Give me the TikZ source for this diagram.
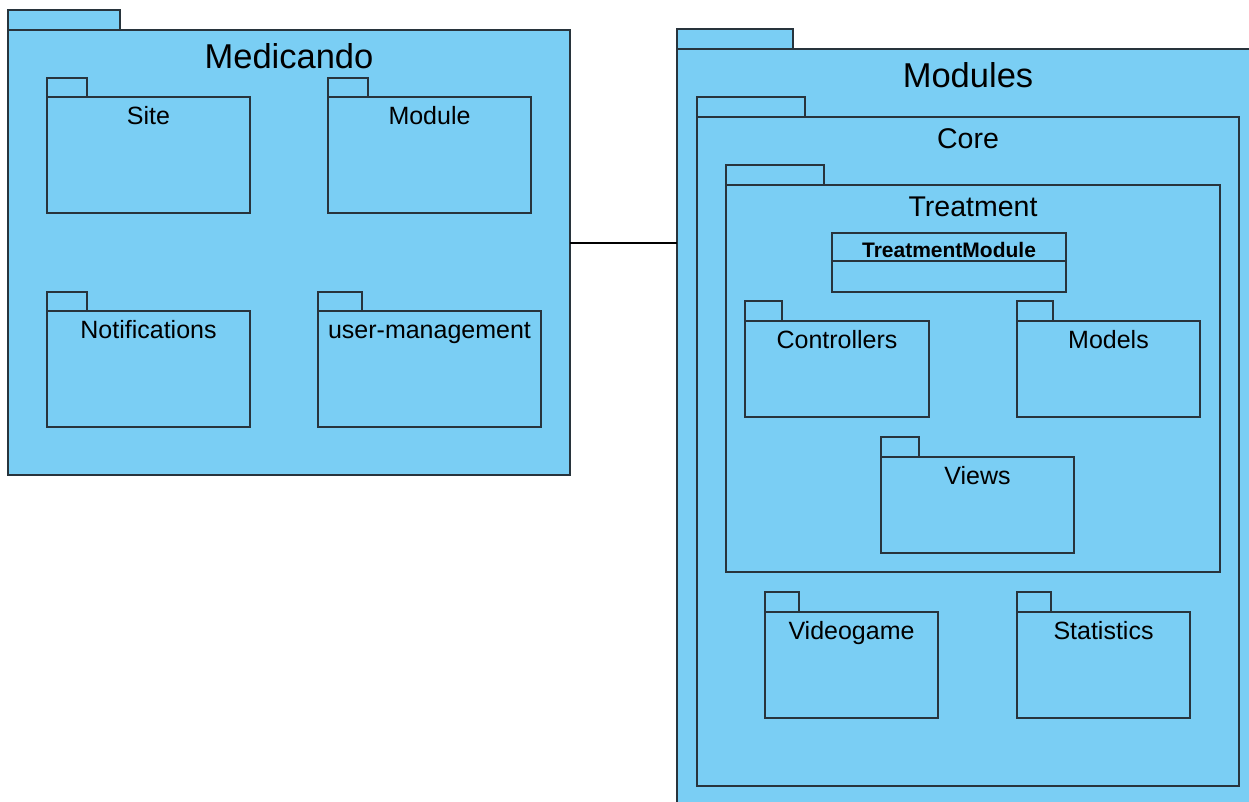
\documentclass[tikz,border=0pt]{standalone}
\usepackage{fontspec}
\setmainfont{Liberation Sans}
\usetikzlibrary{fit,calc}

\definecolor{pkgblue}{RGB}{122,206,244}
\definecolor{pkgedge}{RGB}{40,52,60}

\tikzset{
  pkgline/.style={draw=pkgedge, line width=1.2pt, fill=pkgblue},
  pkgbody/.style={pkgline, inner sep=0pt, outer sep=0pt},
  bigtitle/.style={anchor=base, font=\fontsize{34.5}{40}\selectfont},
  midtitle/.style={anchor=base, font=\fontsize{28.5}{34}\selectfont},
  smalltitle/.style={anchor=base, font=\fontsize{25}{30}\selectfont},
  classtitle/.style={anchor=base, font=\fontsize{21}{25}\selectfont\bfseries},
  link/.style={draw=black, line width=1.2pt}
}

% package: name, left x, tab top y, tab right x, body top y, right x, bottom y
\newcommand{\umlpackage}[7]{%
  \draw[pkgline] (#2,#3) rectangle (#4,#5);
  \node[pkgbody, fit={(#2,#5) (#6,#7)}] (#1) {};
}

\begin{document}
\begin{tikzpicture}[x=1pt, y=-1pt]
\useasboundingbox (0,0) rectangle (1249,801);
\fill[white] (0,0) rectangle (1249,801);
\clip (0,0) rectangle (1249,801);

% ---- Medicando ----
\umlpackage{med}{8}{10}{120}{30}{570}{475}
\node[bigtitle] (med-t) at ($(med.north)+(0,38)$) {Medicando};

\umlpackage{site}{47}{78}{87}{97}{250}{213}
\node[smalltitle] (site-t) at ($(site.north)+(0,27)$) {Site};

\umlpackage{module}{328}{78}{368}{97}{531}{213}
\node[smalltitle] (module-t) at ($(module.north)+(0,27)$) {Module};

\umlpackage{notif}{47}{292}{87}{311}{250}{427}
\node[smalltitle] (notif-t) at ($(notif.north)+(0,27)$) {Notifications};

\umlpackage{users}{318}{292}{362}{311}{541}{427}
\node[smalltitle] (users-t) at ($(users.north)+(0,27)$) {user-management};

% ---- Modules ----
\umlpackage{mods}{677}{29}{793}{49}{1259}{815}
\node[bigtitle] (mods-t) at (968,87) {Modules};

\umlpackage{core}{697}{97}{805}{117}{1239}{786}
\node[midtitle] (core-t) at ($(core.north)+(0,31)$) {Core};

\umlpackage{treat}{726}{165}{824}{185}{1220}{572}
\node[midtitle] (treat-t) at ($(treat.north)+(0,31)$) {Treatment};

% class box
\node[pkgbody, fit={(832,233) (1066,292)}] (tm) {};
\draw[draw=pkgedge, line width=1.2pt] (tm.west |- 0,261) -- (tm.east |- 0,261);
\node[classtitle] (tm-t) at ($(tm.north)+(0,24)$) {TreatmentModule};

\umlpackage{ctrl}{745}{301}{782}{321}{929}{417}
\node[smalltitle] (ctrl-t) at ($(ctrl.north)+(0,27)$) {Controllers};

\umlpackage{models}{1017}{301}{1053}{321}{1200}{417}
\node[smalltitle] (models-t) at ($(models.north)+(0,27)$) {Models};

\umlpackage{views}{881}{437}{919}{457}{1074}{553}
\node[smalltitle] (views-t) at ($(views.north)+(0,27)$) {Views};

\umlpackage{video}{765}{592}{799}{612}{938}{718}
\node[smalltitle] (video-t) at ($(video.north)+(0,27)$) {Videogame};

\umlpackage{stats}{1017}{592}{1051}{612}{1190}{718}
\node[smalltitle] (stats-t) at ($(stats.north)+(0,27)$) {Statistics};

% ---- dependency line ----
\coordinate (lk) at (0,243);
\draw[link] (med.east |- lk) -- (mods.west |- lk);
\end{tikzpicture}
\end{document}
